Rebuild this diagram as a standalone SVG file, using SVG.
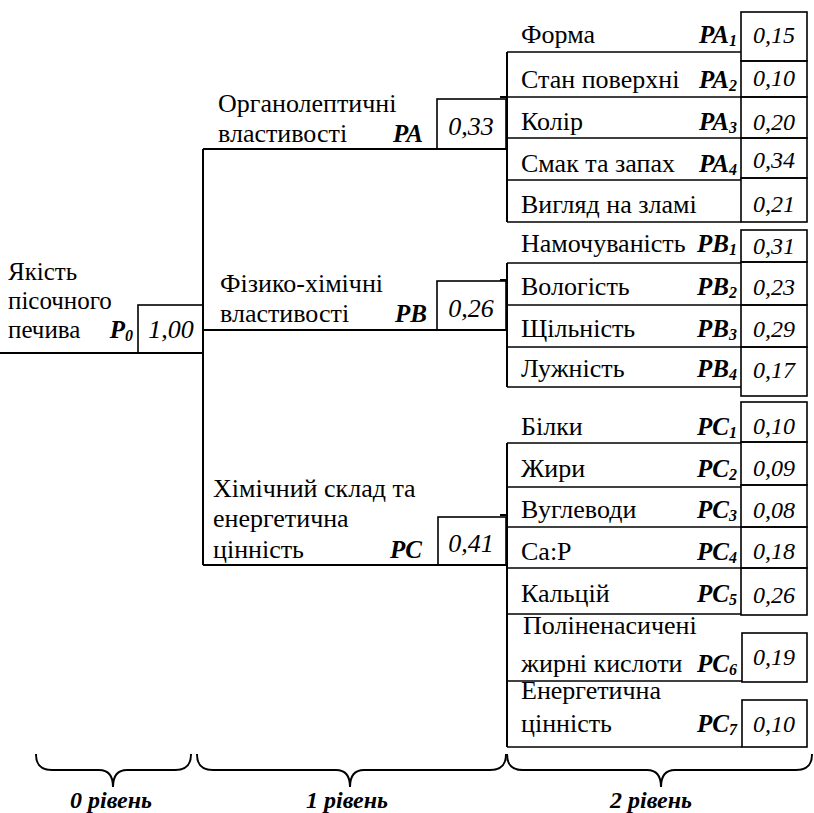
<svg xmlns="http://www.w3.org/2000/svg" width="814" height="813" viewBox="0 0 814 813">
<style>
text{font-family:"Liberation Serif","Liberation Sans",Arial,sans-serif;fill:#000}
.lbl{font-size:26px}
.root{font-size:25px}
.val{font-style:italic;font-size:24px;text-anchor:middle}
.val1{font-style:italic;font-size:26px;text-anchor:middle}
.code{font-weight:bold;font-style:italic;text-anchor:end;font-size:25px}
.sub{font-size:16px}
.box{fill:none;stroke:#000;stroke-width:1.6}
.ln{fill:none;stroke:#000;stroke-width:2}
.lvl{font-weight:bold;font-style:italic;font-size:24px;text-anchor:middle}
</style>
<rect width="814" height="813" fill="#fff"/>

<g id="connectors">
  <path class="ln" d="M0,353 H203 M203,149 V565 M203,149 H507 M203,330 H507 M203,565 H507"/>
  <path class="ln" d="M507,52 V222 M500,97 H507 M507,263 V387 M500,280 H507 M507,443 V747 M500,515 H507"/>
</g>

<g id="P0">
  <text class="root" x="8" y="280">Якість</text>
  <text class="root" x="8" y="309">пісочного</text>
  <text class="root" x="8" y="338">печива</text>
  <text class="code" x="133" y="338">P<tspan class="sub" dy="3">0</tspan></text>
  <rect class="box" x="138" y="305" width="65" height="48"/>
  <text class="val1" x="171" y="338">1,00</text>
</g>

<g id="PA">
  <text class="lbl" x="218" y="112">Органолептичні</text>
  <text class="lbl" x="218" y="142">властивості</text>
  <text class="code" x="423" y="142">PA</text>
  <rect class="box" x="437" y="99" width="69" height="50"/>
  <text class="val1" x="471" y="135">0,33</text>
</g>
<g id="PB">
  <text class="lbl" x="220" y="292">Фізико-хімічні</text>
  <text class="lbl" x="220" y="322">властивості</text>
  <text class="code" x="427" y="322">PB</text>
  <rect class="box" x="437" y="281" width="69" height="49"/>
  <text class="val1" x="471" y="317">0,26</text>
</g>
<g id="PC">
  <text class="lbl" x="213" y="497">Хімічний склад та</text>
  <text class="lbl" x="213" y="527">енергетична</text>
  <text class="lbl" x="213" y="558">цінність</text>
  <text class="code" x="422" y="558">PC</text>
  <rect class="box" x="438" y="517" width="68" height="48"/>
  <text class="val1" x="471" y="552">0,41</text>
</g>

<g id="PA1">
  <path class="box" d="M507,52 H741"/>
  <text class="lbl" x="521" y="43">Форма</text>
  <text class="code" x="737" y="43">PA<tspan class="sub" dy="3">1</tspan></text>
  <rect class="box" x="741" y="12" width="66" height="49"/>
  <text class="val" x="774" y="43">0,15</text>
</g>
<g id="PA2">
  <path class="box" d="M507,97 H741"/>
  <text class="lbl" x="521" y="88">Стан поверхні</text>
  <text class="code" x="737" y="88">PA<tspan class="sub" dy="3">2</tspan></text>
  <rect class="box" x="741" y="61" width="66" height="36"/>
  <text class="val" x="774" y="86">0,10</text>
</g>
<g id="PA3">
  <path class="box" d="M507,138 H741"/>
  <text class="lbl" x="521" y="130">Колір</text>
  <text class="code" x="737" y="130">PA<tspan class="sub" dy="3">3</tspan></text>
  <rect class="box" x="741" y="97" width="66" height="41"/>
  <text class="val" x="774" y="130">0,20</text>
</g>
<g id="PA4">
  <path class="box" d="M507,180 H741"/>
  <text class="lbl" x="521" y="172">Смак та запах</text>
  <text class="code" x="737" y="172">PA<tspan class="sub" dy="3">4</tspan></text>
  <rect class="box" x="741" y="138" width="66" height="40"/>
  <text class="val" x="774" y="168">0,34</text>
</g>
<g id="PA5">
  <path class="box" d="M507,222 H741"/>
  <text class="lbl" x="521" y="213">Вигляд на зламі</text>
  <rect class="box" x="741" y="178" width="66" height="44"/>
  <text class="val" x="774" y="212">0,21</text>
</g>

<g id="PB1">
  <path class="box" d="M507,263 H741"/>
  <text class="lbl" x="521" y="252">Намочуваність</text>
  <text class="code" x="737" y="252">PB<tspan class="sub" dy="3">1</tspan></text>
  <rect class="box" x="741" y="230" width="66" height="32"/>
  <text class="val" x="774" y="254">0,31</text>
</g>
<g id="PB2">
  <path class="box" d="M507,305 H741"/>
  <text class="lbl" x="521" y="295">Вологість</text>
  <text class="code" x="737" y="295">PB<tspan class="sub" dy="3">2</tspan></text>
  <rect class="box" x="741" y="262" width="66" height="43"/>
  <text class="val" x="774" y="295">0,23</text>
</g>
<g id="PB3">
  <path class="box" d="M507,347 H741"/>
  <text class="lbl" x="521" y="337">Щільність</text>
  <text class="code" x="737" y="337">PB<tspan class="sub" dy="3">3</tspan></text>
  <rect class="box" x="741" y="305" width="66" height="42"/>
  <text class="val" x="774" y="337">0,29</text>
</g>
<g id="PB4">
  <path class="box" d="M507,387 H741"/>
  <text class="lbl" x="521" y="377">Лужність</text>
  <text class="code" x="737" y="377">PB<tspan class="sub" dy="3">4</tspan></text>
  <rect class="box" x="741" y="347" width="66" height="49"/>
  <text class="val" x="774" y="378">0,17</text>
</g>

<g id="PC1">
  <path class="box" d="M507,443 H741"/>
  <text class="lbl" x="521" y="435">Білки</text>
  <text class="code" x="737" y="435">PC<tspan class="sub" dy="3">1</tspan></text>
  <rect class="box" x="741" y="402" width="66" height="40"/>
  <text class="val" x="774" y="434">0,10</text>
</g>
<g id="PC2">
  <path class="box" d="M507,487 H741"/>
  <text class="lbl" x="521" y="477">Жири</text>
  <text class="code" x="737" y="477">PC<tspan class="sub" dy="3">2</tspan></text>
  <rect class="box" x="741" y="442" width="66" height="43"/>
  <text class="val" x="774" y="476">0,09</text>
</g>
<g id="PC3">
  <path class="box" d="M507,527 H741"/>
  <text class="lbl" x="521" y="518">Вуглеводи</text>
  <text class="code" x="737" y="518">PC<tspan class="sub" dy="3">3</tspan></text>
  <rect class="box" x="741" y="485" width="66" height="42"/>
  <text class="val" x="774" y="518">0,08</text>
</g>
<g id="PC4">
  <path class="box" d="M507,568 H741"/>
  <text class="lbl" x="521" y="560">Ca:P</text>
  <text class="code" x="737" y="560">PC<tspan class="sub" dy="3">4</tspan></text>
  <rect class="box" x="741" y="527" width="66" height="41"/>
  <text class="val" x="774" y="559">0,18</text>
</g>
<g id="PC5">
  <path class="box" d="M507,614 H741"/>
  <text class="lbl" x="521" y="602">Кальцій</text>
  <text class="code" x="737" y="602">PC<tspan class="sub" dy="3">5</tspan></text>
  <rect class="box" x="741" y="568" width="66" height="47"/>
  <text class="val" x="774" y="603">0,26</text>
</g>
<g id="PC6">
  <path class="box" d="M507,681 H742"/>
  <text class="lbl" x="523" y="634">Поліненасичені</text>
  <text class="lbl" x="521" y="672">жирні кислоти</text>
  <text class="code" x="737" y="672">PC<tspan class="sub" dy="3">6</tspan></text>
  <rect class="box" x="742" y="633" width="65" height="49"/>
  <text class="val" x="774" y="665">0,19</text>
</g>
<g id="PC7">
  <path class="box" d="M507,747 H742"/>
  <text class="lbl" x="521" y="699">Енергетична</text>
  <text class="lbl" x="521" y="732">цінність</text>
  <text class="code" x="737" y="732">PC<tspan class="sub" dy="3">7</tspan></text>
  <rect class="box" x="742" y="700" width="65" height="47"/>
  <text class="val" x="774" y="732">0,10</text>
</g>

<g id="levels">
  <path class="ln" d="M36,754 C36,764 40,770 52,770 H99 C108,770 113,776 113,787 C113,776 118,770 127,770 H175 C187,770 191,764 191,754"/>
  <path class="ln" d="M197,754 C197,764 201,770 213,770 H336 C345,770 350,776 350,787 C350,776 355,770 364,770 H490 C502,770 506,764 506,754"/>
  <path class="ln" d="M507,754 C507,764 511,770 523,770 H647 C656,770 661,776 661,787 C661,776 666,770 675,770 H796 C808,770 812,764 812,754"/>
  <text class="lvl" x="111" y="808">0 рівень</text>
  <text class="lvl" x="347" y="808">1 рівень</text>
  <text class="lvl" x="651" y="808">2 рівень</text>
</g>
</svg>
